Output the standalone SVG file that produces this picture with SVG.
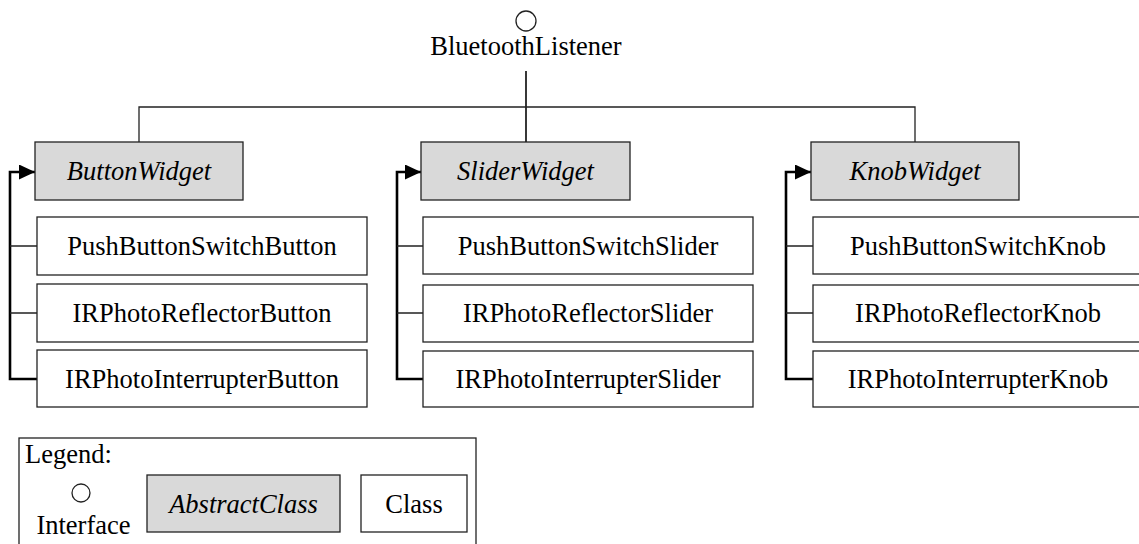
<svg xmlns="http://www.w3.org/2000/svg" width="1139" height="544" viewBox="0 0 1139 544">
<style>
.box{fill:#fff;stroke:#222;stroke-width:1.3}
.abs{fill:#d9d9d9;stroke:#222;stroke-width:1.3}
text{font-size:26.5px;fill:#000;text-anchor:middle}
.i{font-style:italic}
.ln{fill:none;stroke:#222;stroke-width:1.3}
.br{fill:none;stroke:#000;stroke-width:2.6}
.ifc{fill:#fff;stroke:#222;stroke-width:1.3}
</style>
<defs>
<marker id="ah" viewBox="0 0 16 15" refX="16" refY="7.5" markerWidth="16" markerHeight="15" markerUnits="userSpaceOnUse" orient="auto">
<path d="M0,0 L16,7.5 L0,15 Z" fill="#000"/>
</marker>
</defs>
<g font-family="Liberation Serif, Times New Roman, serif">
<g id="connectors">
<line class="ln" x1="526" y1="71" x2="526" y2="142" style="stroke-width:1.8"/>
<path class="ln" d="M139,142 V107 H915 V142"/>
<path class="br" d="M37,379 H10 V172 H35" marker-end="url(#ah)"/>
<path class="ln" d="M10,246 H37 M10,313 H37"/>
<path class="br" d="M423,379 H397 V172 H421" marker-end="url(#ah)"/>
<path class="ln" d="M397,246 H423 M397,313 H423"/>
<path class="br" d="M813,379 H786 V172 H811" marker-end="url(#ah)"/>
<path class="ln" d="M786,246 H813 M786,313 H813"/>
</g>
<g id="BluetoothListener">
<circle class="ifc" cx="526" cy="21" r="10"/>
<text x="526" y="55">BluetoothListener</text>
</g>
<g id="ButtonWidget">
<rect class="abs" x="35" y="142" width="208" height="58"/>
<text class="i" x="139" y="180">ButtonWidget</text>
</g>
<g id="PushButtonSwitchButton">
<rect class="box" x="37" y="217" width="330" height="58"/>
<text x="202" y="255">PushButtonSwitchButton</text>
</g>
<g id="IRPhotoReflectorButton">
<rect class="box" x="37" y="284" width="330" height="58"/>
<text x="202" y="322">IRPhotoReflectorButton</text>
</g>
<g id="IRPhotoInterrupterButton">
<rect class="box" x="37" y="350" width="330" height="57"/>
<text x="202" y="388">IRPhotoInterrupterButton</text>
</g>
<g id="SliderWidget">
<rect class="abs" x="421" y="142" width="209" height="58"/>
<text class="i" x="525.5" y="180">SliderWidget</text>
</g>
<g id="PushButtonSwitchSlider">
<rect class="box" x="423" y="217" width="330" height="57"/>
<text x="588" y="255">PushButtonSwitchSlider</text>
</g>
<g id="IRPhotoReflectorSlider">
<rect class="box" x="423" y="285" width="330" height="57"/>
<text x="588" y="322">IRPhotoReflectorSlider</text>
</g>
<g id="IRPhotoInterrupterSlider">
<rect class="box" x="423" y="351" width="330" height="56"/>
<text x="588" y="388">IRPhotoInterrupterSlider</text>
</g>
<g id="KnobWidget">
<rect class="abs" x="811" y="142" width="208" height="58"/>
<text class="i" x="915" y="180">KnobWidget</text>
</g>
<g id="PushButtonSwitchKnob">
<rect class="box" x="813" y="217" width="330" height="57"/>
<text x="978" y="255">PushButtonSwitchKnob</text>
</g>
<g id="IRPhotoReflectorKnob">
<rect class="box" x="813" y="285" width="330" height="57"/>
<text x="978" y="322">IRPhotoReflectorKnob</text>
</g>
<g id="IRPhotoInterrupterKnob">
<rect class="box" x="813" y="351" width="330" height="56"/>
<text x="978" y="388">IRPhotoInterrupterKnob</text>
</g>
<g id="legend">
<rect class="box" x="19" y="438" width="457" height="110"/>
<text x="25" y="463" style="text-anchor:start">Legend:</text>
<circle class="ifc" cx="81" cy="493" r="9"/>
<text x="83.5" y="534">Interface</text>
<rect class="abs" x="147" y="475" width="193" height="57"/>
<text class="i" x="243.5" y="513">AbstractClass</text>
<rect class="box" x="361" y="475" width="106" height="57"/>
<text x="414" y="513">Class</text>
</g>
</g>
</svg>
